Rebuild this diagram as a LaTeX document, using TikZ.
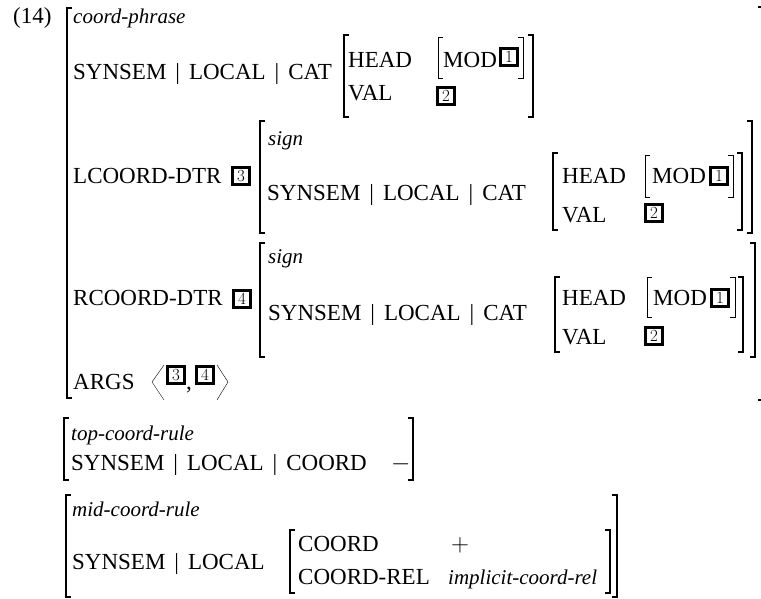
\documentclass[tikz,border=0pt]{standalone}
\usepackage{fontspec}
\setmainfont{Liberation Serif}
\newfontfamily\tagfont{Latin Modern Roman}
\usepackage{tikz}
\usetikzlibrary{positioning}

\tikzset{
  feat/.style={anchor=base west, inner sep=0pt, font=\fontsize{23}{27}\selectfont},
  type/.style={feat, font=\fontsize{21}{26}\selectfont\itshape},
  tagbox/.style={draw, line width=2.5pt, inner sep=0pt, minimum size=17pt,
    font=\tagfont\fontsize{17}{17}\selectfont},
  bigbrak/.style={line width=2pt},
  brak/.style={line width=1.4pt},
  modbrak/.style={line width=1pt},
}
% path bar between features
\newcommand{\pbar}{\hspace{9pt}|\hspace{9pt}}
% brackets: [style]{x}{top}{bottom}
\newcommand{\lbrak}[4][brak]{\draw[#1] (#2+5,#3) -- (#2,#3) -- (#2,#4) -- (#2+5,#4);}
\newcommand{\rbrak}[4][brak]{\draw[#1] (#2-5,#3) -- (#2,#3) -- (#2,#4) -- (#2-5,#4);}

\begin{document}
\begin{tikzpicture}[x=1pt, y=-1pt]
\useasboundingbox (0,0) rectangle (761,598);

% coord-phrase
\node[feat] (ex) at (13,23) {(14)};
\node[type] (phr) at (73,23) {coord-phrase};
\node[feat] (ssA) at (73,79) {SYNSEM\pbar LOCAL\pbar CAT};
\node[feat] (headA) at (348,67) {HEAD};
\node[feat] (valA) at (348,100) {VAL};
\node[feat] (modA) at (443,67) {MOD};
\node[tagbox] (oneA) at (509,57) {1};
\node[tagbox] (twoA) at (446,96) {2};
\lbrak{344}{35}{117} \rbrak{533}{35}{117}
\lbrak[modbrak]{438}{37}{78} \rbrak[modbrak]{523}{37}{78}

% left daughter
\node[feat] (ldtr) at (73,183) {LCOORD-DTR};
\node[tagbox] (three) at (241,176) {3};
\node[type] (signL) at (268,145) {sign};
\node[feat] (ssL) at (267,200) {SYNSEM\pbar LOCAL\pbar CAT};
\node[feat] (headL) at (562,183) {HEAD};
\node[feat] (valL) at (562,222) {VAL};
\node[feat] (modL) at (652,183) {MOD};
\node[tagbox] (oneL) at (719,176) {1};
\node[tagbox] (twoL) at (654,213) {2};
\lbrak[bigbrak]{260}{121}{233} \rbrak[bigbrak]{752}{121}{233}
\lbrak{553}{153}{230} \rbrak{742}{153}{230}
\lbrak[modbrak]{645}{155}{197} \rbrak[modbrak]{733}{155}{197}

% right daughter
\node[feat] (rdtr) at (73,305) {RCOORD-DTR};
\node[tagbox] (four) at (242,299) {4};
\node[type] (signR) at (268,263) {sign};
\node[feat] (ssR) at (268,320) {SYNSEM\pbar LOCAL\pbar CAT};
\node[feat] (headR) at (562,305) {HEAD};
\node[feat] (valR) at (562,344) {VAL};
\node[feat] (modR) at (653,305) {MOD};
\node[tagbox] (oneR) at (720,298) {1};
\node[tagbox] (twoR) at (654,336) {2};
\lbrak[bigbrak]{260}{243}{357} \rbrak[bigbrak]{755}{243}{357}
\lbrak{555}{277}{352} \rbrak{743}{277}{352}
\lbrak[modbrak]{647}{277}{317} \rbrak[modbrak]{735}{277}{317}

% ARGS list
\node[feat] (args) at (73,389) {ARGS};
\node[tagbox] (argL) at (176,375) {3};
\node[feat] (comma) at (186,389) {,};
\node[tagbox] (argR) at (205,375) {4};
\draw (164,365) -- (152,382) -- (164,400);
\draw (217,365) -- (228,382) -- (217,400);

\lbrak[bigbrak]{67}{8}{398} \rbrak[bigbrak]{763}{7}{400}

% top-coord-rule
\node[type] (top) at (71,440) {top-coord-rule};
\node[feat] (ssT) at (71,470) {SYNSEM\pbar LOCAL\pbar COORD};
\node[feat] (minus) at (391,470) {$-$};
\lbrak[bigbrak]{64}{418}{480} \rbrak[bigbrak]{413}{418}{480}

% mid-coord-rule
\node[type] (mid) at (72,516) {mid-coord-rule};
\node[feat] (ssM) at (72,569) {SYNSEM\pbar LOCAL};
\node[feat] (coordM) at (298,551) {COORD};
\node[feat] (plus) at (451,551) {$+$};
\node[feat] (crel) at (298,584) {COORD-REL};
\node[type] (impl) at (448,584) {implicit-coord-rel};
\lbrak{290}{530}{593} \rbrak{610}{530}{593}
\lbrak[bigbrak]{66}{495}{597} \rbrak[bigbrak]{617}{495}{597}
\end{tikzpicture}
\end{document}
